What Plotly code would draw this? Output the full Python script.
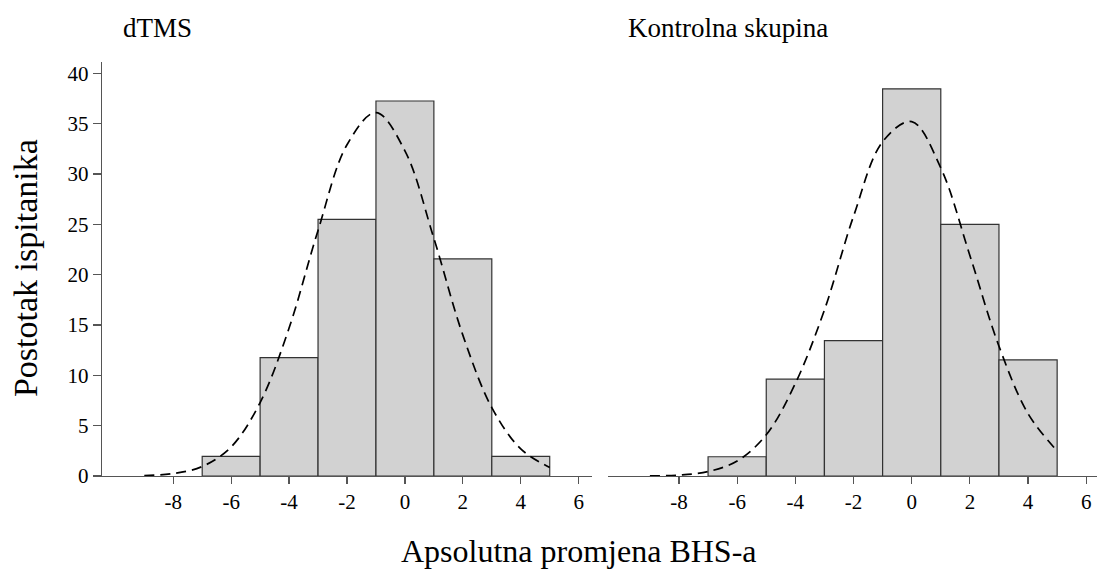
import plotly.graph_objects as go

# Data (percent of participants per bin of width 2)
bin_centers = [-6, -4, -2, 0, 2, 4]
dtms_pct = [1.96, 11.76, 25.49, 37.25, 21.57, 1.96]
ctrl_pct = [1.92, 9.62, 13.46, 38.46, 25.0, 11.54]

# Fitted normal curves
curve_x = [-9, -8, -7, -6, -5, -4, -3, -2, -1, 0, 1, 2, 3, 4, 5]
dtms_curve = [0.06, 0.25, 0.95, 2.9, 7.3, 14.7, 24.4, 32.9, 36.1, 32.3, 23.6, 14.0, 6.8, 2.7, 0.86]
ctrl_curve = [0.02, 0.1, 0.45, 1.5, 4.1, 9.2, 16.5, 25.8, 33.2, 35.2, 30.6, 21.9, 12.9, 6.2, 2.5]

x_ticks = [-8, -6, -4, -2, 0, 2, 4, 6]
y_ticks = [0, 5, 10, 15, 20, 25, 30, 35, 40]
panel_titles = ["dTMS", "Kontrolna skupina"]
x_title = "Apsolutna promjena BHS-a"
y_title = "Postotak ispitanika"

W, H = 1097, 576
VS = 0.979  # observed vertical scale of the screenshot
FONT = "Liberation Serif, Times New Roman, Times, serif"
BAR_FILL = "#d2d2d2"
EDGE = "#333333"
AXIS = "#555555"

def px(v):
    return v / W

def py(v):
    return 1 - (v / VS) / H

fig = go.Figure()

for i, (vals, curve) in enumerate([(dtms_pct, dtms_curve), (ctrl_pct, ctrl_curve)]):
    xa = "x" if i == 0 else "x2"
    ya = "y" if i == 0 else "y2"
    fig.add_trace(go.Bar(
        x=bin_centers, y=vals, width=[2] * len(bin_centers),
        marker=dict(color=BAR_FILL, line=dict(color=EDGE, width=1.2)),
        xaxis=xa, yaxis=ya, showlegend=False, hoverinfo="skip",
    ))
    fig.add_trace(go.Scatter(
        x=curve_x, y=curve, mode="lines",
        line=dict(color="black", width=1.7, dash="10px,6px", shape="spline", smoothing=1.0),
        xaxis=xa, yaxis=ya, showlegend=False, hoverinfo="skip",
    ))

y0, ytop = 476, 61.7
ydom = [py(y0), py(ytop)]

common_x = dict(
    showline=True, linecolor=AXIS, linewidth=1.2,
    ticks="outside", ticklen=7, tickcolor=AXIS, tickwidth=1.2,
    tickvals=x_ticks, ticktext=[str(t) for t in x_ticks],
    tickfont=dict(family=FONT, size=21, color="black"),
    showgrid=False, zeroline=False, fixedrange=True,
)

fig.update_layout(
    width=W, height=H,
    margin=dict(l=0, r=0, t=0, b=0),
    paper_bgcolor="white", plot_bgcolor="white",
    bargap=0,
    xaxis=dict(domain=[px(102), px(592)], range=[-10.46, 6.46], anchor="y", **common_x),
    xaxis2=dict(domain=[px(608), 1.0], range=[-10.44, 6.37], anchor="y2", **common_x),
    yaxis=dict(
        domain=ydom, range=[0, 41.15], anchor="x",
        showline=True, linecolor=AXIS, linewidth=1.2,
        ticks="outside", ticklen=8, tickcolor=AXIS, tickwidth=1.2,
        tickvals=y_ticks, ticktext=[str(t) for t in y_ticks],
        tickfont=dict(family=FONT, size=21, color="black"),
        showgrid=False, zeroline=False, fixedrange=True,
    ),
    yaxis2=dict(
        domain=ydom, range=[0, 41.15], anchor="x2",
        showline=False, showticklabels=False, ticks="",
        showgrid=False, zeroline=False, fixedrange=True,
    ),
    annotations=[
        dict(text=panel_titles[0], x=px(121), y=py(28), xref="paper", yref="paper",
             xanchor="left", yanchor="middle", showarrow=False,
             font=dict(family=FONT, size=27, color="black")),
        dict(text=panel_titles[1], x=px(626), y=py(28), xref="paper", yref="paper",
             xanchor="left", yanchor="middle", showarrow=False,
             font=dict(family=FONT, size=27, color="black")),
        dict(text=x_title, x=px(579), y=py(551), xref="paper", yref="paper",
             xanchor="center", yanchor="middle", showarrow=False,
             font=dict(family=FONT, size=32, color="black")),
        dict(text=y_title, x=px(25), y=py(268), xref="paper", yref="paper",
             xanchor="center", yanchor="middle", showarrow=False, textangle=-90,
             font=dict(family=FONT, size=34, color="black")),
    ],
)

fig.write_html(
    "out.html",
    config={"displayModeBar": False, "staticPlot": True},
    post_script="document.body.style.margin='0';document.body.style.overflow='hidden';",
)
